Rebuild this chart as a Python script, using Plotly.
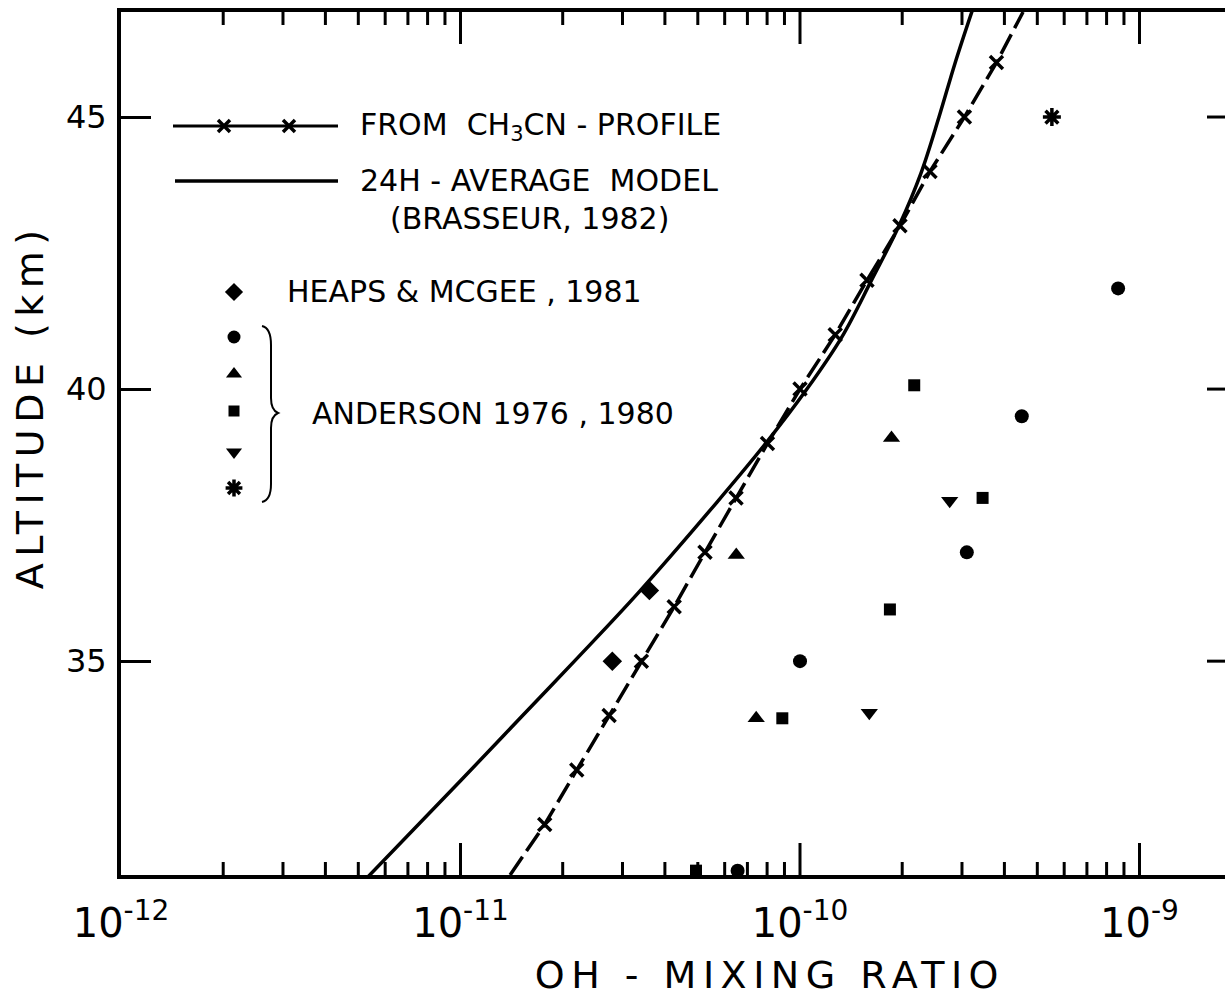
import math
import plotly.graph_objects as go

# ---------------- data ----------------
# OH mixing ratio derived from the CH3CN profile
ch3cn_alt = [32, 33, 34, 35, 36, 37, 38, 39, 40, 41, 42, 43, 44, 45, 46]
ch3cn_oh = [1.77e-11, 2.20e-11, 2.74e-11, 3.41e-11, 4.26e-11, 5.25e-11, 6.48e-11,
            8.02e-11, 1.00e-10, 1.27e-10, 1.575e-10, 1.97e-10, 2.415e-10, 3.05e-10, 3.79e-10]
# where the dashed line leaves the frame (bottom, top)
ch3cn_end_alt = [31.07, 46.93]
ch3cn_end_oh = [1.40e-11, 4.54e-10]

# 24H-average model (Brasseur, 1982)
model_alt = [31.0, 32.81, 33.97, 35.07, 36.25, 37.92, 39.03, 40.0, 40.96, 42.02,
             43.0, 43.97, 45.0, 45.99, 47.0]
model_oh = [5.27e-12, 1.0035e-11, 1.507e-11, 2.219e-11, 3.333e-11, 5.69e-11, 7.99e-11,
            1.048e-10, 1.329e-10, 1.63e-10, 1.957e-10, 2.272e-10, 2.567e-10, 2.862e-10, 3.234e-10]

# Heaps & McGee, 1981
heaps_alt = [35.0, 36.3]
heaps_oh = [2.80e-11, 3.60e-11]

# Anderson 1976, 1980
circle_alt = [31.15, 35.0, 37.0, 39.5, 41.85]
circle_oh = [6.55e-11, 1.00e-10, 3.10e-10, 4.50e-10, 8.65e-10]
tri_up_alt = [33.95, 36.95, 39.1]
tri_up_oh = [7.43e-11, 6.49e-11, 1.86e-10]
square_alt = [31.15, 33.95, 35.95, 38.0, 40.07]
square_oh = [4.94e-11, 8.87e-11, 1.84e-10, 3.45e-10, 2.17e-10]
tri_down_alt = [34.05, 37.95]
tri_down_oh = [1.60e-10, 2.76e-10]
star_alt = [45.0]
star_oh = [5.52e-10]

# axes
x_tick_vals = [1e-12, 1e-11, 1e-10, 1e-9]
x_tick_text = ["10<sup>-12</sup>", "10<sup>-11</sup>", "10<sup>-10</sup>", "10<sup>-9</sup>"]
x_minor_mult = [2, 3, 4, 5, 6, 7, 8, 9]
x_decades = [1e-12, 1e-11, 1e-10, 1e-9]
y_tick_vals = [35, 40, 45]

# ---------------- geometry ----------------
W, H = 1225, 1006
PL, PR, PT, PB = 121, 1225, 12, 875          # plot area in pixels
PW, PH = PR - PL, PB - PT
DEC = 339.5                                   # pixels per decade
X_RANGE = [-12, -12 + PW / DEC]
Y_RANGE = [31.07, 46.93]
FONT = "DejaVu Sans"
BLACK = "black"


def fx(p):   # pixel -> paper x
    return (p - PL) / PW


def fy(p):   # pixel -> paper y
    return (PB - p) / PH


def xval2paper(v):
    return (math.log10(v) - X_RANGE[0]) / (X_RANGE[1] - X_RANGE[0])


def lx(p):   # pixel -> axis value (x), for legend keys
    return 10 ** (X_RANGE[0] + fx(p) * (X_RANGE[1] - X_RANGE[0]))


def ly(p):   # pixel -> axis value (y), for legend keys
    return Y_RANGE[0] + fy(p) * (Y_RANGE[1] - Y_RANGE[0])


fig = go.Figure()

# dashed CH3CN line (with its ends at the frame)
line_oh = [ch3cn_end_oh[0]] + ch3cn_oh + [ch3cn_end_oh[1]]
line_alt = [ch3cn_end_alt[0]] + ch3cn_alt + [ch3cn_end_alt[1]]
fig.add_trace(go.Scatter(x=line_oh, y=line_alt, mode="lines",
                         line=dict(color=BLACK, width=3.5, dash="22px,7px")))
fig.add_trace(go.Scatter(x=ch3cn_oh, y=ch3cn_alt, mode="markers",
                         marker=dict(symbol="x-thin-open", size=13, color=BLACK,
                                     line=dict(color=BLACK, width=3.5))))
# model curve
fig.add_trace(go.Scatter(x=model_oh, y=model_alt, mode="lines",
                         line=dict(color=BLACK, width=3.5, shape="spline", smoothing=1.0)))


def pts(xv, yv, sym, size, lw=0):
    fig.add_trace(go.Scatter(x=xv, y=yv, mode="markers", cliponaxis=True,
                             marker=dict(symbol=sym, size=size, color=BLACK,
                                         line=dict(color=BLACK, width=lw))))


pts(heaps_oh, heaps_alt, "diamond", 15)
pts(circle_oh, circle_alt, "circle", 14)
pts(tri_up_oh, tri_up_alt, "triangle-up", 15)
pts(square_oh, square_alt, "square", 12)
pts(tri_down_oh, tri_down_alt, "triangle-down", 15)
pts(star_oh, star_alt, "asterisk-open", 15, 3.5)

# ---------------- custom legend (keys placed by pixel position) ----------------
leg = dict(showlegend=False, hoverinfo="skip", cliponaxis=False)
fig.add_trace(go.Scatter(x=[lx(173), lx(338)], y=[ly(126), ly(126)], mode="lines",
                         line=dict(color=BLACK, width=3), **leg))
fig.add_trace(go.Scatter(x=[lx(224), lx(289)], y=[ly(126), ly(126)], mode="markers",
                         marker=dict(symbol="x-thin-open", size=12, color=BLACK,
                                     line=dict(color=BLACK, width=3.5)), **leg))
fig.add_trace(go.Scatter(x=[lx(175), lx(338)], y=[ly(181), ly(181)], mode="lines",
                         line=dict(color=BLACK, width=3.5), **leg))
leg_syms = [("diamond", 14, 0, 292), ("circle", 13, 0, 337), ("triangle-up", 14, 0, 374),
            ("square", 11, 0, 411), ("triangle-down", 14, 0, 452), ("asterisk-open", 14, 3.5, 488)]
for sym, size, lw, yp in leg_syms:
    fig.add_trace(go.Scatter(x=[lx(234)], y=[ly(yp)], mode="markers",
                             marker=dict(symbol=sym, size=size, color=BLACK,
                                         line=dict(color=BLACK, width=lw)), **leg))

# brace
bp = [("M", 262, 326), ("Q", 271, 328), ("", 271, 345), ("L", 271, 398),
      ("Q", 271, 410), ("", 278, 413), ("Q", 271, 416), ("", 271, 428),
      ("L", 271, 484), ("Q", 271, 500), ("", 262, 502)]
path = " ".join(f"{c} {fx(a):.5f},{fy(b):.5f}".strip() for c, a, b in bp)
fig.add_shape(type="path", path=path, xref="paper", yref="paper",
              line=dict(color=BLACK, width=2))

# ---------------- x ticks (inside, bottom and top) and right-hand ticks ----------------
TW = 3


def seg(x0, y0, x1, y1):
    fig.add_shape(type="line", xref="paper", yref="paper", x0=x0, y0=y0, x1=x1, y1=y1,
                  line=dict(color=BLACK, width=TW), layer="above")


def xtick(v, length):
    p = xval2paper(v)
    if not (0 < p <= 1):
        return
    seg(p, 0, p, length / PH)
    seg(p, 1, p, 1 - length / PH)


for v in x_tick_vals:
    xtick(v, 32)
for d in x_decades:
    for m in x_minor_mult:
        xtick(m * d, 13)
for v in y_tick_vals:
    q = (v - Y_RANGE[0]) / (Y_RANGE[1] - Y_RANGE[0])
    # the frame's right edge lies just outside the picture
    seg(fx(1207), q, 1.0, q)

# ---------------- texts ----------------
lf = dict(family=FONT, size=30, color=BLACK)
texts = [("FROM  CH<sub>3</sub>CN - PROFILE", 358, 126),
         ("24H - AVERAGE  MODEL", 358, 181),
         ("(BRASSEUR, 1982)", 388, 218),
         ("HEAPS & MCGEE , 1981", 285, 292),
         ("ANDERSON 1976 , 1980", 310, 413)]
for t, xp, yp in texts:
    fig.add_annotation(text=t, x=fx(xp), y=fy(yp), xref="paper", yref="paper",
                       xanchor="left", yanchor="middle", showarrow=False, font=lf)

tf = dict(family=FONT, size=38, color=BLACK)
fig.add_annotation(text="OH - MIXING RATIO", x=fx(770), y=fy(975), xref="paper", yref="paper",
                   xanchor="center", yanchor="middle", showarrow=False, font=tf)
fig.add_annotation(text="ALTITUDE (km)", x=fx(30), y=fy(407), xref="paper", yref="paper",
                   xanchor="center", yanchor="middle", showarrow=False, font=tf, textangle=-90)

fig.update_layout(
    width=W, height=H,
    margin=dict(l=PL, r=W - PR, t=PT, b=H - PB, pad=0),
    paper_bgcolor="white", plot_bgcolor="white",
    showlegend=False,
    font=dict(family=FONT, color=BLACK),
    xaxis=dict(type="log", range=X_RANGE, tickmode="array", tickvals=x_tick_vals,
               ticktext=x_tick_text, ticks="", ticklabelstandoff=10,
               showline=True, linewidth=4, linecolor=BLACK, mirror=True,
               showgrid=False, zeroline=False, tickfont=dict(family=FONT, size=40, color=BLACK)),
    yaxis=dict(range=Y_RANGE, tickmode="array", tickvals=y_tick_vals, ticks="inside",
               ticklen=30, tickwidth=TW, tickcolor=BLACK, ticklabelstandoff=4,
               showline=True, linewidth=4, linecolor=BLACK, mirror=False, showgrid=False,
               zeroline=False, tickfont=dict(family=FONT, size=32, color=BLACK)),
)

post = """
document.querySelectorAll('text').forEach(function(t){
  var s = t.textContent || '';
  if (s.indexOf('MIXING') >= 0 || s.indexOf('ALTITUDE') >= 0) { t.style.letterSpacing = '6.5px'; }
});
"""
fig.write_html("out.html", post_script=post)
